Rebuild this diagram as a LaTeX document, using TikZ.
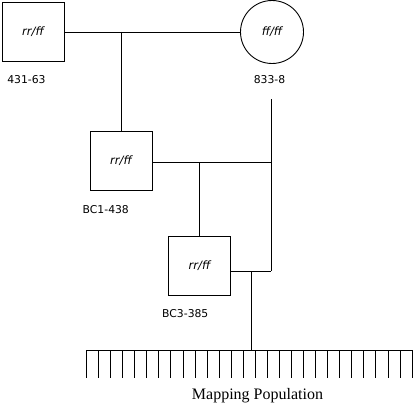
\documentclass[tikz,border=0pt]{standalone}
\usepackage{fontspec}
\usetikzlibrary{calc}
\setmainfont{Liberation Serif}
\newfontfamily\dvsans{DejaVu Sans}
\begin{document}
\begin{tikzpicture}[x=1pt,y=-1pt,
  line width=0.9pt,
  indiv/.style={draw, rectangle, minimum width=62pt, minimum height=59pt, inner sep=0pt,
    font=\dvsans\itshape\fontsize{11.5}{13}\selectfont},
  female/.style={draw, circle, minimum size=63pt, inner sep=0pt,
    font=\dvsans\itshape\fontsize{11.5}{13}\selectfont},
  lab/.style={anchor=base, inner sep=0pt, font=\dvsans\fontsize{10.8}{13}\selectfont},
  title/.style={anchor=base, inner sep=0pt, font=\fontsize{16}{18}\selectfont}]
\useasboundingbox (0,0) rectangle (415,404);
% individuals
\node[indiv] (p1) at (33,32) {rr/ff};
\node[female] (p2) at (272,32) {ff/ff};
\node[indiv] (bc1) at (121,160.5) {rr/ff};
\node[indiv] (bc3) at (199.5,265.5) {rr/ff};
% labels
\node[lab] (l1) at (26.5,84) {431-63};
\node[lab] (l2) at (269.5,84) {833-8};
\node[lab] (l3) at (105.8,213.3) {BC1-438};
\node[lab] (l4) at (185.3,317.3) {BC3-385};
\node[title] (mp) at (257.5,399.5) {Mapping Population};
% junction coordinates
\coordinate (m1) at (121,32);
\coordinate (t2) at (271,99);
\coordinate (j2) at (271,271);
\coordinate (m2) at (199.5,162);
\coordinate (j3) at (251,271);
\coordinate (cl) at (86.5,350);
\coordinate (cr) at (413,350);
% connectors
\draw (p1.east) -- (p2.west);
\draw (m1) -- (bc1.north);
\draw (t2) -- (j2);
\draw (bc1.east |- m2) -- (m2 -| t2);
\draw (m2) -- (bc3.north);
\draw (bc3.east |- j2) -- (j2);
\draw (j3) -- (j3 |- cl);
% comb of progeny
\draw (cl) -- (cr);
\foreach \i in {0,...,27} {
  \draw ($(cl)+(\i*12.06,0)$) -- ++(0,28);
}
\end{tikzpicture}
\end{document}
